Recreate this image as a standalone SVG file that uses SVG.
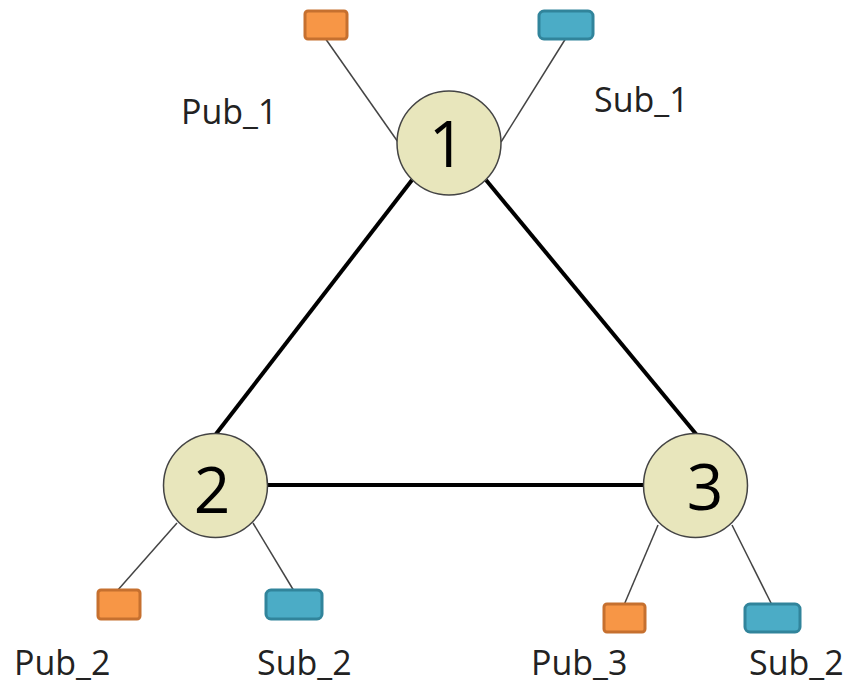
<svg xmlns="http://www.w3.org/2000/svg" width="856" height="686" viewBox="0 0 856 686">
<style>
.edge{stroke:#000;stroke-width:4;fill:none}
.leg{stroke:#444;stroke-width:1.5;fill:none}
.node{fill:#e8e6bc;stroke:#444;stroke-width:1.5}
.num{font-family:"Open Sans","DejaVu Sans",sans-serif;font-size:64px;fill:#000;text-anchor:middle}
.lbl{font-family:"Open Sans","DejaVu Sans",sans-serif;font-size:34px;fill:#222}
.pub{fill:#f79646;stroke:#c6702f;stroke-width:3}
.sub{fill:#4bacc6;stroke:#31849b;stroke-width:3}
</style>
<rect width="856" height="686" fill="#fff"/>
<g id="connectors">
<line class="edge" x1="412" y1="180" x2="216" y2="434"/>
<line class="edge" x1="486" y1="180" x2="696" y2="434"/>
<line class="edge" x1="268" y1="485" x2="643" y2="485"/>
<line class="leg" x1="325" y1="38" x2="398" y2="142"/>
<line class="leg" x1="566" y1="38" x2="501" y2="142"/>
<line class="leg" x1="177" y1="523" x2="117" y2="591"/>
<line class="leg" x1="253" y1="523" x2="294" y2="591"/>
<line class="leg" x1="658" y1="525" x2="624" y2="605"/>
<line class="leg" x1="732" y1="525" x2="772" y2="605"/>
</g>
<g id="node1">
<circle class="node" cx="449" cy="143" r="52"/>
<text class="num" x="447" y="167">1</text>
</g>
<g id="node2">
<circle class="node" cx="215.5" cy="485.5" r="52"/>
<text class="num" x="212" y="513">2</text>
</g>
<g id="node3">
<circle class="node" cx="695.5" cy="485.5" r="52"/>
<text class="num" x="705" y="510">3</text>
</g>
<g id="pub1"><rect class="pub" x="305" y="11" width="42" height="28" rx="3"/><text class="lbl" x="181" y="124">Pub_1</text></g>
<g id="sub1"><rect class="sub" x="539" y="11" width="54" height="28" rx="5"/><text class="lbl" x="594" y="112">Sub_1</text></g>
<g id="pub2"><rect class="pub" x="98" y="590" width="42" height="29" rx="3"/><text class="lbl" x="14" y="675">Pub_2</text></g>
<g id="sub2"><rect class="sub" x="266" y="590" width="56" height="29" rx="5"/><text class="lbl" x="257" y="675">Sub_2</text></g>
<g id="pub3"><rect class="pub" x="604" y="604" width="41" height="28" rx="3"/><text class="lbl" x="531" y="675">Pub_3</text></g>
<g id="sub3"><rect class="sub" x="745" y="604" width="55" height="28" rx="5"/><text class="lbl" x="749" y="675">Sub_2</text></g>
</svg>
